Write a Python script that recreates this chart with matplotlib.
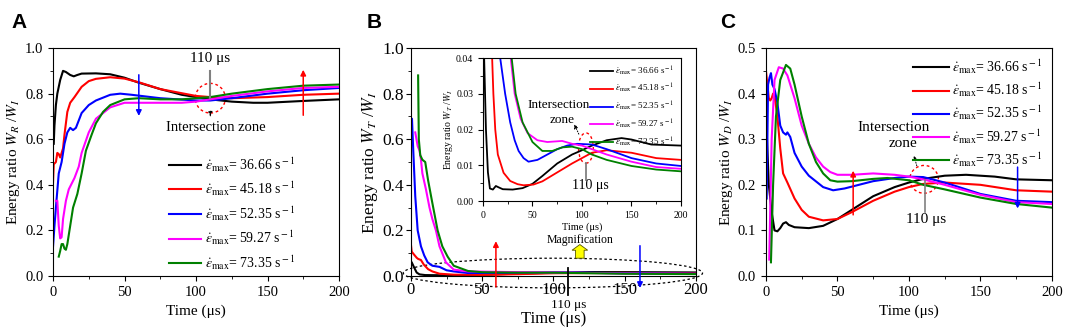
import numpy as np
import matplotlib
matplotlib.use('Agg')
import matplotlib.pyplot as plt
from matplotlib.patches import Ellipse, FancyArrow
from matplotlib.ticker import MultipleLocator

plt.rcParams['font.family'] = ['Liberation Serif', 'DejaVu Serif']
plt.rcParams['mathtext.fontset'] = 'stix'

colors = ['black', 'red', 'blue', 'magenta', 'green']
rates = ['36.66', '45.18', '52.35', '59.27', '73.35']
labels = [r'$\dot{\varepsilon}_{\rm max}$= %s s$^{\rm -1}$' % r for r in rates]

# ---- panel A : reflected energy ratio W_R/W_I
a_t = [
    [0.5, 1, 2, 3, 5, 7, 9, 12, 14.5, 17, 20, 30, 40, 50, 60, 75, 90, 100, 110, 125, 140, 150, 175, 200],
    [0, 0.5, 2, 3, 4, 5, 6, 7, 8, 10, 12, 15, 20, 25, 30, 40, 50, 60, 75, 100, 110, 125, 150, 175, 200],
    [0, 1, 2, 4, 6, 8, 10, 12, 14, 16, 20, 25, 30, 40, 47, 55, 75, 100, 110, 125, 150, 175, 200],
    [2, 3, 4, 5, 6, 7, 9, 11, 15, 18, 20, 25, 30, 40, 50, 75, 90, 100, 110, 125, 150, 175, 200],
    [4, 5, 6, 7, 8, 9, 10, 12, 14, 17, 20, 23, 27, 30, 35, 40, 50, 60, 75, 90, 100, 110, 125, 150, 175, 200],
]
a_v = [
    [0.58, 0.66, 0.75, 0.80, 0.86, 0.90, 0.895, 0.882, 0.876, 0.882, 0.888, 0.889, 0.885, 0.87, 0.848, 0.82, 0.795, 0.785, 0.775, 0.765, 0.76, 0.76, 0.768, 0.775],
    [0.41, 0.49, 0.50, 0.54, 0.535, 0.52, 0.54, 0.56, 0.62, 0.72, 0.76, 0.785, 0.83, 0.855, 0.865, 0.872, 0.866, 0.85, 0.82, 0.79, 0.785, 0.78, 0.785, 0.795, 0.80],
    [0.13, 0.22, 0.30, 0.45, 0.50, 0.58, 0.63, 0.65, 0.64, 0.65, 0.715, 0.75, 0.77, 0.795, 0.80, 0.795, 0.78, 0.77, 0.77, 0.78, 0.80, 0.815, 0.825],
    [0.33, 0.33, 0.22, 0.165, 0.17, 0.25, 0.33, 0.38, 0.43, 0.48, 0.54, 0.63, 0.69, 0.74, 0.76, 0.76, 0.76, 0.765, 0.775, 0.79, 0.81, 0.825, 0.83],
    [0.085, 0.11, 0.14, 0.14, 0.12, 0.115, 0.14, 0.22, 0.30, 0.36, 0.45, 0.55, 0.62, 0.67, 0.72, 0.75, 0.775, 0.78, 0.775, 0.775, 0.78, 0.785, 0.80, 0.82, 0.835, 0.84],
]

# ---- panel B : transmitted energy ratio W_T/W_I (main, early part)
b_t = [
    [0, 0.5, 2, 4, 6, 10, 20, 30, 50, 75, 100, 125, 150, 200],
    [0, 0.5, 2, 4, 5, 7, 9, 12, 15, 20, 30, 50, 75, 100, 150, 200],
    [0, 0.7, 1.6, 3, 4.7, 7, 9.3, 11.7, 15, 20, 25, 30, 40, 75, 100, 150, 200],
    [3, 4.7, 6, 7, 8, 10.5, 13, 15, 17.5, 20, 24.5, 30, 40, 75, 100, 150, 200],
    [5, 5.5, 6.5, 8, 10, 12, 15, 18.7, 22, 25.7, 30, 40, 50, 75, 100, 150, 200],
]
b_v = [
    [0.063, 0.06, 0.04, 0.015, 0.007, 0.004, 0.0033, 0.0032, 0.0048, 0.0105, 0.0142, 0.017, 0.017, 0.0155],
    [0.136, 0.107, 0.095, 0.08, 0.075, 0.07, 0.05, 0.03, 0.02, 0.01, 0.0058, 0.0046, 0.008, 0.012, 0.0135, 0.0115],
    [0.69, 0.69, 0.55, 0.35, 0.20, 0.13, 0.09, 0.06, 0.045, 0.04, 0.025, 0.02, 0.013, 0.0145, 0.016, 0.012, 0.0098],
    [0.63, 0.57, 0.55, 0.51, 0.45, 0.38, 0.30, 0.25, 0.2, 0.13, 0.06, 0.028, 0.02, 0.0168, 0.0155, 0.011, 0.009],
    [0.88, 0.60, 0.53, 0.51, 0.50, 0.42, 0.32, 0.2, 0.13, 0.085, 0.045, 0.022, 0.0165, 0.0145, 0.0145, 0.0098, 0.0083],
]

# ---- panel B inset (magnified)
i_t = [
    [1, 3, 5, 7, 10, 13, 16, 20, 30, 40, 50, 60, 75, 90, 100, 110, 125, 140, 150, 170, 200],
    [9, 10.5, 12.4, 15, 20.8, 27.5, 35, 41, 51, 60, 75, 90, 100, 110, 125, 150, 175, 200],
    [15, 17.4, 22.4, 27.5, 32, 36, 41, 46, 55, 65, 75, 85, 95, 110, 125, 150, 175, 200],
    [27, 28, 32, 38, 45, 55, 65, 80, 90, 100, 110, 125, 150, 175, 200],
    [28, 29, 33, 40, 50, 60, 70, 80, 90, 100, 110, 125, 150, 175, 200],
]
i_v = [
    [0.042, 0.02, 0.008, 0.0035, 0.0032, 0.0042, 0.0038, 0.0033, 0.0032, 0.0036, 0.0048, 0.007, 0.0105, 0.013, 0.0142, 0.0155, 0.017, 0.0176, 0.0172, 0.0158, 0.0155],
    [0.042, 0.03, 0.02, 0.013, 0.0079, 0.0056, 0.0047, 0.0044, 0.0046, 0.0055, 0.008, 0.0105, 0.012, 0.0135, 0.0142, 0.0135, 0.012, 0.0115],
    [0.0405, 0.04, 0.03, 0.022, 0.017, 0.014, 0.012, 0.011, 0.0115, 0.013, 0.0145, 0.0155, 0.016, 0.0158, 0.0145, 0.012, 0.0105, 0.0098],
    [0.045, 0.04, 0.03, 0.023, 0.019, 0.017, 0.0165, 0.0168, 0.016, 0.0155, 0.0145, 0.013, 0.011, 0.0095, 0.009],
    [0.045, 0.04, 0.03, 0.022, 0.0165, 0.014, 0.014, 0.015, 0.0152, 0.0145, 0.013, 0.0115, 0.0098, 0.0088, 0.0083],
]

# ---- panel C : dissipated energy ratio W_D/W_I
c_t = [
    [0.5, 2, 4, 6, 8, 10, 12, 14, 16, 20, 30, 40, 50, 60, 75, 90, 100, 110, 125, 140, 160, 175, 200],
    [0, 1, 2, 3, 4, 5, 6, 8, 10, 12, 15, 20, 25, 30, 40, 50, 60, 75, 90, 100, 110, 125, 150, 175, 200],
    [0.5, 1, 1.5, 2.5, 3.5, 4.5, 6, 8, 10, 12, 14, 15, 17, 20, 25, 30, 40, 47, 55, 65, 75, 90, 100, 110, 125, 150, 175, 200],
    [2.3, 4, 6, 9, 12, 15, 20, 25, 30, 35, 40, 45, 50, 60, 75, 90, 100, 110, 125, 150, 175, 200],
    [3.5, 5, 7, 10, 14, 17, 20, 25, 30, 35, 40, 45, 50, 60, 75, 85, 100, 110, 125, 150, 175, 200],
]
c_v = [
    [0.32, 0.2, 0.14, 0.10, 0.098, 0.105, 0.115, 0.118, 0.112, 0.107, 0.105, 0.11, 0.125, 0.145, 0.175, 0.195, 0.205, 0.213, 0.22, 0.222, 0.218, 0.212, 0.21],
    [0.45, 0.42, 0.39, 0.385, 0.39, 0.40, 0.395, 0.35, 0.28, 0.225, 0.205, 0.17, 0.145, 0.13, 0.122, 0.125, 0.14, 0.165, 0.185, 0.195, 0.202, 0.205, 0.20, 0.188, 0.185],
    [0.17, 0.30, 0.42, 0.435, 0.445, 0.42, 0.41, 0.38, 0.33, 0.315, 0.31, 0.315, 0.305, 0.27, 0.24, 0.22, 0.195, 0.188, 0.192, 0.20, 0.208, 0.215, 0.218, 0.217, 0.205, 0.18, 0.165, 0.162],
    [0.036, 0.30, 0.43, 0.458, 0.455, 0.44, 0.39, 0.33, 0.29, 0.26, 0.24, 0.228, 0.222, 0.222, 0.225, 0.222, 0.218, 0.212, 0.20, 0.178, 0.162, 0.158],
    [0.03, 0.20, 0.35, 0.43, 0.463, 0.455, 0.42, 0.35, 0.29, 0.25, 0.225, 0.21, 0.207, 0.208, 0.213, 0.215, 0.21, 0.20, 0.19, 0.172, 0.158, 0.15],
]

fig = plt.figure(figsize=(10.65, 3.27), dpi=100)
axA = fig.add_axes([0.0498, 0.156, 0.2685, 0.697])
axB = fig.add_axes([0.3859, 0.156, 0.2676, 0.697])
axC = fig.add_axes([0.7192, 0.156, 0.2685, 0.697])
axI = fig.add_axes([0.4535, 0.3853, 0.1859, 0.4373])


def style(ax, ymax, ymaj, ymin, fs=10.5):
    ax.set_xlim(0, 200)
    ax.set_ylim(0, ymax)
    ax.xaxis.set_major_locator(MultipleLocator(50))
    ax.xaxis.set_minor_locator(MultipleLocator(25))
    ax.yaxis.set_major_locator(MultipleLocator(ymaj))
    ax.yaxis.set_minor_locator(MultipleLocator(ymin))
    ax.tick_params(which='both', direction='out', top=False, right=False, labelsize=fs)
    ax.tick_params(which='major', length=3.5)
    ax.tick_params(which='minor', length=2)


for k in range(5):
    axA.plot(a_t[k], a_v[k], color=colors[k], lw=1.5, label=labels[k])
    axB.plot(b_t[k], b_v[k], color=colors[k], lw=1.5)
    axI.plot(i_t[k], i_v[k], color=colors[k], lw=1.3, label=labels[k])
    axC.plot(c_t[k], c_v[k], color=colors[k], lw=1.5, label=labels[k])

style(axA, 1.0, 0.2, 0.1)
style(axB, 1.0, 0.2, 0.1)
style(axC, 0.5, 0.1, 0.05)
style(axI, 0.04, 0.01, 0.005, fs=7)
axA.yaxis.set_major_formatter(matplotlib.ticker.FormatStrFormatter('%.1f'))
axB.yaxis.set_major_formatter(matplotlib.ticker.FormatStrFormatter('%.1f'))
axC.yaxis.set_major_formatter(matplotlib.ticker.FormatStrFormatter('%.1f'))
axI.yaxis.set_major_formatter(matplotlib.ticker.FormatStrFormatter('%.2f'))
axB.tick_params(labelsize=12.5, pad=1.5)
axB.tick_params(axis='x', labelsize=12, pad=1)

axA.set_xlabel('Time (\u03bcs)', fontsize=11)
axC.set_xlabel('Time (\u03bcs)', fontsize=11)
axB.set_xlabel('Time (\u03bcs)', fontsize=12)
axB.xaxis.set_label_coords(0.5, -0.152)
axA.set_ylabel(r'Energy ratio $W_R$ /$W_I$', fontsize=11, labelpad=2)
axB.set_ylabel(r'Energy ratio $W_T$ /$W_I$', fontsize=12.5, labelpad=2)
axC.set_ylabel(r'Energy ratio $W_D$ /$W_I$', fontsize=11, labelpad=2)
axI.set_xlabel('Time (\u03bcs)', fontsize=7.5, labelpad=2)
axI.set_ylabel(r'Energy ratio $W_T$ /$W_I$', fontsize=7, labelpad=1)

# legends
axA.legend(loc='upper left', bbox_to_anchor=(0.38, 0.56), frameon=False, fontsize=10,
           handlelength=2.3, handletextpad=0.3, labelspacing=0.45, borderpad=0)
axI.legend(loc='upper right', bbox_to_anchor=(1.0, 1.0), frameon=False, fontsize=6.5,
           handlelength=2.6, handletextpad=0.2, labelspacing=0.5, borderpad=0.2)
axC.legend(loc='upper right', bbox_to_anchor=(1.0, 1.0), frameon=False, fontsize=10,
           handlelength=2.6, handletextpad=0.2, labelspacing=0.35, borderpad=0.2)

# panel letters
for x, s in [(0.011, 'A'), (0.344, 'B'), (0.676, 'C')]:
    fig.text(x, 0.96, s, fontsize=15, fontweight='bold', family='Liberation Sans', va='top')

# ---- annotations A
axA.add_patch(Ellipse((110, 0.78), 21, 0.13, fill=False, ec='red', ls=(0, (2, 2)), lw=1))
axA.plot([110, 110], [0.78, 0.90], color='gray', lw=1.5)
axA.text(110, 0.925, '110 \u03bcs', ha='center', va='bottom', fontsize=11)
axA.annotate('', xy=(110, 0.69), xytext=(110, 0.715),
             arrowprops=dict(arrowstyle='-|>', color='black', lw=0.8, ls=':', mutation_scale=6))
axA.text(114, 0.65, 'Intersection zone', ha='center', va='center', fontsize=10.5)
axA.annotate('', xy=(60, 0.69), xytext=(60, 0.895),
             arrowprops=dict(arrowstyle='-|>', color='blue', lw=1.1, mutation_scale=8))
axA.annotate('', xy=(175, 0.917), xytext=(175, 0.693),
             arrowprops=dict(arrowstyle='-|>', color='red', lw=1.1, mutation_scale=8))

# ---- annotations B main
axB.add_patch(Ellipse((99.6, 0.013), 210, 0.13, fill=False, ec='black', ls=(0, (2, 2)),
                      lw=0.9, clip_on=False))
axB.plot([110, 110], [0.035, -0.085], color='black', lw=1.3, clip_on=False)
axB.text(111, -0.1, '110 \u03bcs', ha='center', va='top', fontsize=9.5)
axB.annotate('', xy=(59.6, 0.165), xytext=(59.6, -0.06),
             arrowprops=dict(arrowstyle='-|>', color='red', lw=1.1, mutation_scale=8),
             annotation_clip=False)
axB.annotate('', xy=(160.7, -0.065), xytext=(160.7, 0.145),
             arrowprops=dict(arrowstyle='-|>', color='blue', lw=1.1, mutation_scale=8),
             annotation_clip=False)
axB.add_patch(FancyArrow(118.5, 0.078, 0, 0.035, width=6, head_width=11, head_length=0.025,
                         length_includes_head=False, fc='yellow', ec='#555500', lw=0.6))
axB.text(118.5, 0.158, 'Magnification', ha='center', va='center', fontsize=8.5)

# ---- annotations B inset
axI.add_patch(Ellipse((104, 0.0148), 15, 0.0085, fill=False, ec='red', ls=(0, (2, 2)), lw=1))
axI.plot([104, 104], [0.0106, 0.006], color='gray', lw=1.3)
axI.text(108, 0.0042, '110 \u03bcs', ha='center', va='center', fontsize=10)
axI.text(76, 0.0268, 'Intersection', ha='center', va='center', fontsize=9.5)
axI.text(80, 0.0227, 'zone', ha='center', va='center', fontsize=9.5)
axI.annotate('', xy=(91, 0.0222), xytext=(98, 0.018),
             arrowprops=dict(arrowstyle='-|>', color='black', lw=0.7, ls=':', mutation_scale=6))

# ---- annotations C
axC.add_patch(Ellipse((110.6, 0.212), 20, 0.061, fill=False, ec='red', ls=(0, (2, 2)), lw=1))
axC.plot([111, 111], [0.21, 0.14], color='gray', lw=1.2)
axC.text(112, 0.124, '110 \u03bcs', ha='center', va='center', fontsize=11)
axC.text(89, 0.325, 'Intersection', ha='center', va='center', fontsize=11)
axC.text(96, 0.29, 'zone', ha='center', va='center', fontsize=11)
axC.annotate('', xy=(103, 0.27), xytext=(106, 0.236),
             arrowprops=dict(arrowstyle='-|>', color='black', lw=0.7, ls=':', mutation_scale=6))
axC.annotate('', xy=(61, 0.237), xytext=(61, 0.128),
             arrowprops=dict(arrowstyle='-|>', color='red', lw=1.1, mutation_scale=8))
axC.annotate('', xy=(176, 0.142), xytext=(176, 0.245),
             arrowprops=dict(arrowstyle='-|>', color='blue', lw=1.1, mutation_scale=8))

fig.savefig('out.png', dpi=100)
